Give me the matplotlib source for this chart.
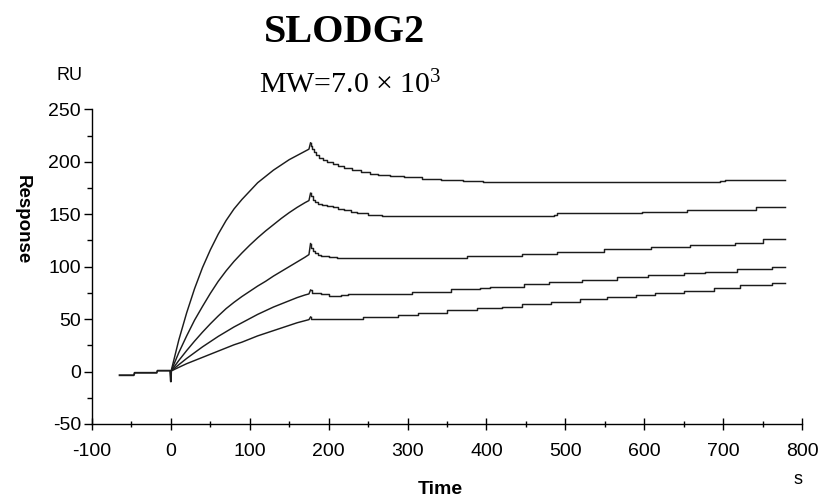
import numpy as np
import matplotlib
matplotlib.use("Agg")
import matplotlib.pyplot as plt
from matplotlib.ticker import MultipleLocator

plt.rcParams['font.family'] = ['Liberation Sans', 'DejaVu Sans']
plt.rcParams['mathtext.default'] = 'regular'
plt.rcParams['axes.unicode_minus'] = False

# baseline before injection (shared by all cycles)
t_base = [-65, -47, -46, -18, -17, -1, 0, 0.3]
v_base = [-3.5, -3.5, -1.2, -1.2, 0.8, 0.8, -9.5, 0.5]

# association phase, 0 - 177 s
t_ass = [0.3, 10, 20, 30, 40, 50, 60, 70, 80, 90, 100, 110, 120, 130, 140, 150, 160, 170, 175, 177]
v_ass1 = [0.5, 30, 56, 79, 99, 116, 131, 144, 155, 164, 172, 180, 186, 192, 197, 202, 206, 210, 212, 218]
v_ass2 = [0.5, 18, 34, 49, 62, 74.5, 86, 96, 105, 113, 120.5, 127.5, 134, 140, 146, 151.5, 156.5, 161, 163, 170]
v_ass3 = [0.5, 10.5, 20, 29, 37.5, 45.5, 53, 60, 66, 71.5, 76.5, 81.5, 86, 91, 95.5, 100, 104.5, 109, 111.5, 122]
v_ass4 = [0.5, 6.5, 12.5, 18, 23.5, 28.5, 33.5, 38, 42.5, 46.5, 50.5, 54.5, 58, 61.5, 64.5, 67.5, 70.5, 73, 74, 77.7]
v_ass5 = [0.5, 4, 7.5, 10.5, 13.5, 16.5, 19.5, 22.5, 25.5, 28, 31, 34, 36.5, 39, 41.5, 44, 46.5, 48.5, 49.5, 52]

# dissociation phase, 177 - 778 s (instrument output is stepped)
t_dis1 = [177, 178, 179, 181, 184, 188, 193, 198, 205, 212, 219, 230, 241, 252, 262,
          278, 295, 318, 342, 370, 396, 696, 702, 778]
v_dis1 = [218, 215, 212, 209, 206, 203.5, 201.5, 200, 198, 196, 194, 192, 190, 188.5, 187,
          186, 185, 183.5, 182.5, 181.5, 181, 182, 182.5, 182.5]
t_dis2 = [177, 178, 180, 183, 187, 192, 198, 205, 212, 219, 228, 236, 250, 268, 485, 490,
          597, 654, 742, 778]
v_dis2 = [170, 167, 164, 162, 160, 158.5, 157.8, 156.5, 155, 154, 152.5, 150.8, 149.5, 148.2,
          149.5, 151, 152.4, 154, 156.5, 156.5]
t_dis3 = [177, 178, 180, 183, 186, 190, 200, 211, 375, 445, 489, 549, 608, 658, 715, 751, 778]
v_dis3 = [122, 118, 115, 113, 111.5, 110.5, 109.5, 108, 110, 112, 114, 117, 119, 120.6, 123, 126, 126]
t_dis4 = [177, 179, 190, 200, 215, 225, 306, 355, 392, 405, 447, 479, 521, 565, 605, 650,
          677, 717, 762, 778]
v_dis4 = [77.7, 74.5, 73.5, 72.3, 73, 73.9, 76, 78.4, 79.6, 80.8, 83.4, 85.3, 87.2, 90.4, 92.3,
          93.6, 95.1, 97.7, 99.9, 99.9]
t_dis5 = [177, 178, 243, 288, 313, 350, 388, 420, 445, 482, 518, 553, 590, 614, 650, 688,
          722, 762, 778]
v_dis5 = [52, 49.8, 51.7, 53.9, 56.0, 58.6, 60.2, 61.8, 64.5, 66.5, 68.8, 70.7, 72.9, 75.1,
          77.0, 79.3, 82.1, 84.0, 84.0]

association = [v_ass1, v_ass2, v_ass3, v_ass4, v_ass5]
dissociation = [(t_dis1, v_dis1), (t_dis2, v_dis2), (t_dis3, v_dis3), (t_dis4, v_dis4), (t_dis5, v_dis5)]

W, H = 832, 501
fig = plt.figure(figsize=(W / 100, H / 100), dpi=100)
ax = fig.add_axes([92 / W, (H - 424) / H, 710 / W, 314.7 / H])

lc = '#1c1c1c'
ax.plot(t_base, v_base, color=lc, lw=1.4)
for v in association:
    ax.plot(t_ass, v, color=lc, lw=1.05)
for t, v in dissociation:
    ax.plot(t, v, color=lc, lw=1.05, drawstyle='steps-post')

ax.set_xlim(-100, 800)
ax.set_ylim(-50, 250)
ax.xaxis.set_major_locator(MultipleLocator(100))
ax.xaxis.set_minor_locator(MultipleLocator(50))
ax.yaxis.set_major_locator(MultipleLocator(50))
ax.yaxis.set_minor_locator(MultipleLocator(25))

for s in ['top', 'right']:
    ax.spines[s].set_visible(False)
for s in ['left', 'bottom']:
    ax.spines[s].set_linewidth(1.0)
    ax.spines[s].set_color('black')

ax.tick_params(axis='x', which='major', direction='inout', length=9, width=1.0, labelsize=14, pad=9)
ax.tick_params(axis='x', which='minor', direction='inout', length=5, width=1.0)
ax.tick_params(axis='y', which='major', direction='out', length=6, width=1.0, labelsize=14, pad=2)
ax.tick_params(axis='y', which='minor', direction='out', length=3.5, width=1.0)

fig.text(344 / W, 1 - 42 / H, 'SLODG2', ha='center', va='baseline',
         fontsize=29, fontweight='bold', family='Liberation Serif')
fig.text(350 / W, 1 - 93 / H, 'MW=7.0 \u00d7 10$^{3}$', ha='center', va='baseline',
         fontsize=21.5, family='Liberation Serif')
fig.text(70 / W, 1 - 75 / H, 'RU', ha='center', va='center', fontsize=13)
fig.text(22 / W, 1 - 220 / H, 'Response', ha='center', va='center', rotation=270,
         fontsize=13.5, fontweight='bold')
fig.text(440 / W, 1 - 490 / H, 'Time', ha='center', va='center', fontsize=14, fontweight='bold')
fig.text(798 / W, 1 - 479 / H, 's', ha='center', va='center', fontsize=13)

fig.savefig('out.png', dpi=100)
